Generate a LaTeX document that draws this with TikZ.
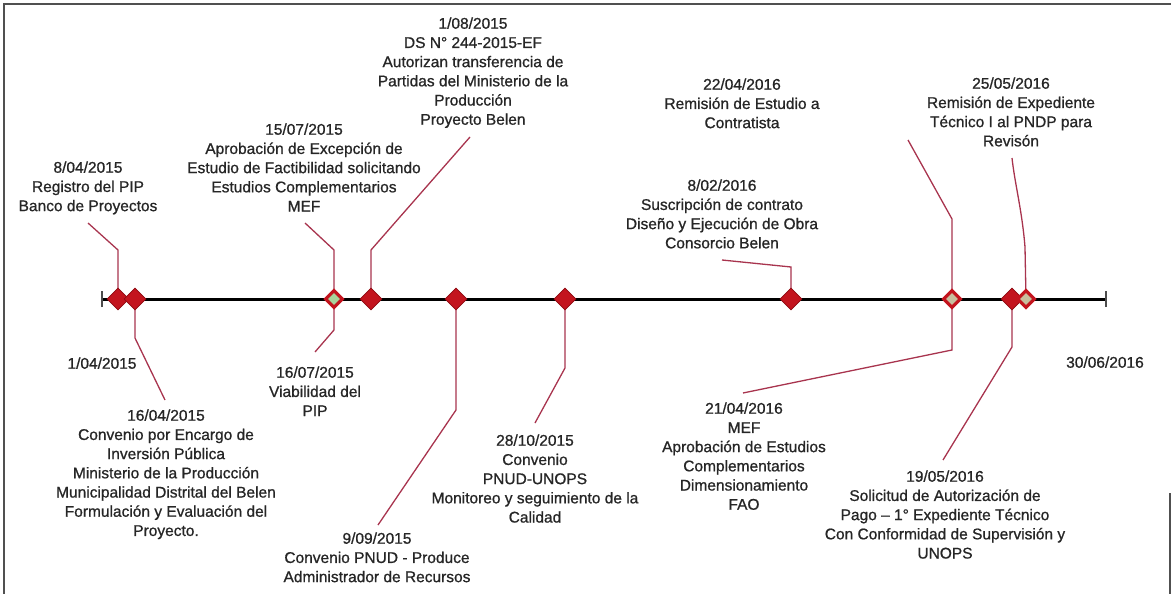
\documentclass[tikz,border=0pt]{standalone}
\usepackage{fontspec}
\setmainfont{Liberation Sans}
\newfontfamily\lblfont[FakeBold=0.9]{Liberation Sans}
\usetikzlibrary{shapes.geometric}
\definecolor{txt}{HTML}{262626}
\definecolor{conncol}{HTML}{A8344E}
\definecolor{mkred}{HTML}{C3141E}
\definecolor{mkdark}{HTML}{8E0A12}
\definecolor{mkgreen}{HTML}{A8D49C}
\definecolor{mktan}{HTML}{C8BE9E}
\definecolor{framecol}{HTML}{505050}
\begin{document}
\begin{tikzpicture}[x=1pt,y=-1pt,
  lbl/.style={font=\lblfont\fontsize{15.5}{19.2}\selectfont, text=txt, align=center, anchor=north, inner sep=0pt},
  lead/.style={draw=conncol, line width=1.3pt},
  mkr/.style={diamond, minimum width=22pt, minimum height=22pt, inner sep=0pt, fill=mkred, draw=mkdark, line width=0.8pt},
  mkg/.style={diamond, minimum width=18pt, minimum height=18pt, inner sep=0pt, fill=mkgreen, draw=mkred, line width=3.2pt},
  mkt/.style={mkg, fill=mktan},
  framestyle/.style={draw=framecol, line width=2pt}]
\useasboundingbox (0,0) rectangle (1171,594);
% frame
\draw[framestyle] (4,594) -- (4,4) -- (1171,4);
\draw[framestyle] (1170,493) -- (1170,594);

% labels above
\node[lbl] (t0804) at (88,161.3) {8/04/2015\\Registro del PIP\\Banco de Proyectos};
\node[lbl] (t1507) at (304,123.3) {15/07/2015\\Aprobación de Excepción de\\Estudio de Factibilidad solicitando\\Estudios Complementarios\\MEF};
\node[lbl] (t0108) at (473,17.3) {1/08/2015\\DS N° 244-2015-EF\\Autorizan transferencia de\\Partidas del Ministerio de la\\Producción\\Proyecto Belen};
\node[lbl] (t2204) at (742,78.3) {22/04/2016\\Remisión de Estudio a\\Contratista};
\node[lbl] (t2505) at (1011,77.3) {25/05/2016\\Remisión de Expediente\\Técnico I al PNDP para\\Revisón};
\node[lbl] (t0802) at (722,179.3) {8/02/2016\\Suscripción de contrato\\Diseño y Ejecución de Obra\\Consorcio Belen};
% labels below
\node[lbl] (t0104) at (102,357.3) {1/04/2015};
\node[lbl] (t1604) at (166,409.3) {16/04/2015\\Convenio por Encargo de\\Inversión Pública\\Ministerio de la Producción\\Municipalidad Distrital del Belen\\Formulación y Evaluación del\\Proyecto.};
\node[lbl] (t1607) at (315,366.3) {16/07/2015\\Viabilidad del\\PIP};
\node[lbl] (t0909) at (377,532.3) {9/09/2015\\Convenio PNUD - Produce\\Administrador de Recursos};
\node[lbl] (t2810) at (535,434.3) {28/10/2015\\Convenio\\PNUD-UNOPS\\Monitoreo y seguimiento de la\\Calidad};
\node[lbl] (t2104) at (744,402.3) {21/04/2016\\MEF\\Aprobación de Estudios\\Complementarios\\Dimensionamiento\\FAO};
\node[lbl] (t1905) at (945,470.3) {19/05/2016\\Solicitud de Autorización de\\Pago – 1° Expediente Técnico\\Con Conformidad de Supervisión y\\UNOPS};
\node[lbl] (t3006) at (1105,356.3) {30/06/2016};

% marker positions
\coordinate (c0804) at (118,299);
\coordinate (c1604) at (135,299);
\coordinate (c1507) at (334,299);
\coordinate (c0108) at (371,299);
\coordinate (c0909) at (456,299);
\coordinate (c2810) at (565,299);
\coordinate (c0802) at (791,299);
\coordinate (c2104) at (952,299);
\coordinate (c1905) at (1012,299);
\coordinate (c2505) at (1026,299);

% leader end points
\coordinate (e0804) at (88,223);
\coordinate (e1507) at (305,223);
\coordinate (e0108) at (470,137);
\coordinate (e0802) at (722,260);
\coordinate (e2204) at (908,140);
\coordinate (e2505) at (1012,158);
\coordinate (e1604) at (165,400);
\coordinate (e1607) at (315,352);
\coordinate (e0909) at (378,525);
\coordinate (e2810) at (535,423);
\coordinate (e2104) at (743,393);
\coordinate (e1905) at (943,460);

% leaders
\draw[lead] (c0804) -- (118,250) -- (e0804);
\draw[lead] (c1507) -- (334,250) -- (e1507);
\draw[lead] (c1507) -- (334,330) -- (e1607);
\draw[lead] (c0108) -- (371,250) -- (e0108);
\draw[lead] (c0802) -- (791,267) -- (e0802);
\draw[lead] (c2104) -- (952,219) -- (e2204);
\draw[lead] (c2104) -- (952,350) -- (e2104);
\draw[lead] (c2505) -- (1025,247) .. controls (1022,210) and (1015,185) .. (e2505);
\draw[lead] (c1604) -- (135,338) -- (e1604);
\draw[lead] (c0909) -- (456,410) -- (e0909);
\draw[lead] (c2810) -- (565,368) -- (e2810);
\draw[lead] (c1905) -- (1012,347) -- (e1905);

% timeline
\coordinate (tl) at (102,299);
\coordinate (tr) at (1106,299);
\draw[black, line width=3pt] (tl) -- (tr);
\draw[black!70, line width=2pt] ([yshift=-8pt]tl) -- ([yshift=8pt]tl);
\draw[black!70, line width=2pt] ([yshift=-8pt]tr) -- ([yshift=8pt]tr);

% markers
\node[mkr] (d0804) at (c0804) {};
\node[mkr] (d1604) at (c1604) {};
\node[mkg] (d1507) at (c1507) {};
\node[mkr] (d0108) at (c0108) {};
\node[mkr] (d0909) at (c0909) {};
\node[mkr] (d2810) at (c2810) {};
\node[mkr] (d0802) at (c0802) {};
\node[mkt] (d2104) at (c2104) {};
\node[mkr] (d1905) at (c1905) {};
\node[mkt] (d2505) at (c2505) {};
\end{tikzpicture}
\end{document}
